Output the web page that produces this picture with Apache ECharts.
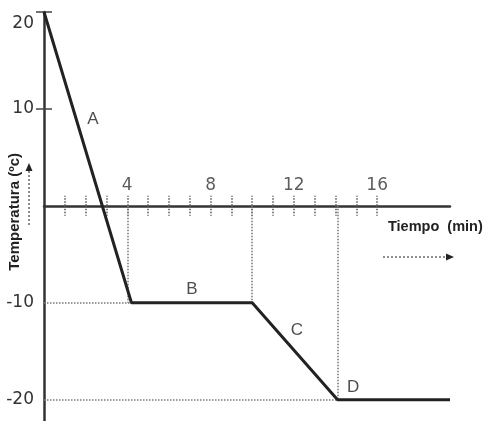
<!DOCTYPE html>
<html>
<head>
<meta charset="utf-8">
<script src="https://cdn.jsdelivr.net/npm/echarts@6/dist/echarts.min.js"></script>
<style>
  html, body { margin: 0; padding: 0; background: #fff; }
  #chart { width: 486px; height: 421px; }
</style>
</head>
<body>
<div id="chart"></div>
<script>
// curve: time (min) vs temperature (°C)
const times = [0, 4.2, 10, 14.1, 19.5];
const temps = [20, -10, -10, -20, -20];

// dotted guide lines down from the axis to the curve corners
const guideT = [4, 10, 14.1];
const guideY = [-10, -10, -20];
// horizontal guides from the y axis to the corners
const hGuideY = [-10, -20];
const hGuideEnd = [4.2, 14.1];

// segment letters
const letters = ['A', 'B', 'C', 'D'];
const letterT = [2.35, 7.1, 12.15, 14.85];
const letterY = [8.9, -8.6, -12.8, -18.7];

const xLabels = [4, 8, 12, 16];
const xTicks = [1, 2, 3, 4, 5, 6, 7, 8, 9, 10, 11, 12, 13, 14, 15, 16];
const yLabels = [20, 10, -10, -20];
const yTicks = [20, 10];

const ink = '#222';
const guide = { type: 'dotted', color: '#777', width: 1.5 };
const tickStyle = { type: 'dotted', color: '#555', width: 1.5 };

const chart = echarts.init(document.getElementById('chart'));

const marks = [];
guideT.forEach((t, i) => marks.push([{ coord: [t, 0] }, { coord: [t, guideY[i]] }]));
hGuideY.forEach((v, i) => marks.push([{ coord: [0, v] }, { coord: [hGuideEnd[i], v] }]));

chart.setOption({
  animation: false,
  backgroundColor: '#fff',
  grid: { left: 44, right: 36, top: 12, bottom: 0, containLabel: false },
  xAxis: [
    {
      type: 'value', min: 0, max: 19.5, position: 'bottom',
      axisLine: { onZero: true, lineStyle: { color: '#333', width: 2.5 } },
      axisTick: { show: true, inside: false, length: 10, customValues: xTicks, lineStyle: tickStyle },
      axisLabel: { show: false },
      splitLine: { show: false }
    },
    {
      type: 'value', min: 0, max: 19.5, position: 'bottom',
      axisLine: { onZero: true, lineStyle: { opacity: 0 } },
      axisTick: { show: true, inside: true, length: 10, customValues: xTicks, lineStyle: tickStyle },
      axisLabel: { show: false },
      splitLine: { show: false }
    }
  ],
  yAxis: [
    {
      type: 'value', min: -22.2, max: 20, position: 'left',
      axisLine: { show: true, onZero: false, lineStyle: { color: '#333', width: 2.5 } },
      axisTick: { show: true, inside: false, length: 8, customValues: yTicks, lineStyle: { color: '#444', width: 1.5 } },
      axisLabel: {
        customValues: yLabels, margin: 10,
        color: '#333', fontSize: 17, fontFamily: 'DejaVu Sans',
        formatter: (v) => (v === 20 ? '{low|20}' : String(v)),
        rich: { low: { fontSize: 17, fontFamily: 'DejaVu Sans', color: '#333', padding: [24, 0, 0, 0] } }
      },
      splitLine: { show: false }
    },
    {
      type: 'value', min: -22.2, max: 20, position: 'left',
      axisLine: { show: false, onZero: false },
      axisTick: { show: true, inside: true, length: 8, customValues: yTicks, lineStyle: { color: '#444', width: 1.5 } },
      axisLabel: { show: false },
      splitLine: { show: false }
    }
  ],
  series: [
    {
      type: 'line',
      data: [],
      markLine: { silent: true, symbol: 'none', label: { show: false }, lineStyle: guide, data: marks }
    },
    {
      type: 'line',
      data: times.map((t, i) => [t, temps[i]]),
      symbol: 'none',
      lineStyle: { color: ink, width: 3 },
      z: 5
    },
    {
      // segment letters
      type: 'scatter',
      symbolSize: 0,
      data: letters.map((n, i) => ({ name: n, value: [letterT[i], letterY[i]] })),
      label: {
        show: true, position: 'inside', formatter: '{b}',
        color: '#222', fontSize: 17, fontFamily: 'Liberation Sans'
      }
    },
    {
      // time tick labels sit above the zero line
      type: 'scatter',
      symbolSize: 0,
      data: xLabels.map((t) => ({ name: String(t), value: [t, 0] })),
      label: {
        show: true, position: 'top', distance: 12, formatter: '{b}',
        color: '#333', fontSize: 17, fontFamily: 'DejaVu Sans'
      }
    }
  ],
  graphic: [
    {
      type: 'text', left: 7, top: 153, rotation: Math.PI / 2,
      style: { text: 'Temperatura (ºc)', fill: '#222', font: 'bold 15px "Liberation Sans"' }
    },
    {
      type: 'line', shape: { x1: 29, y1: 225, x2: 29, y2: 170 },
      style: { stroke: '#444', lineWidth: 1.2, lineDash: [2, 2] }
    },
    {
      type: 'polygon', shape: { points: [[29, 163], [25.5, 171], [32.5, 171]] },
      style: { fill: '#222' }
    },
    {
      type: 'text', left: 388, top: 219,
      style: { text: 'Tiempo  (min)', fill: '#222', font: 'bold 14.5px "Liberation Sans"' }
    },
    {
      type: 'line', shape: { x1: 383, y1: 257, x2: 447, y2: 257 },
      style: { stroke: '#444', lineWidth: 1.2, lineDash: [2, 2] }
    },
    {
      type: 'polygon', shape: { points: [[454, 257], [446, 253.5], [446, 260.5]] },
      style: { fill: '#222' }
    }
  ]
});
</script>
</body>
</html>
